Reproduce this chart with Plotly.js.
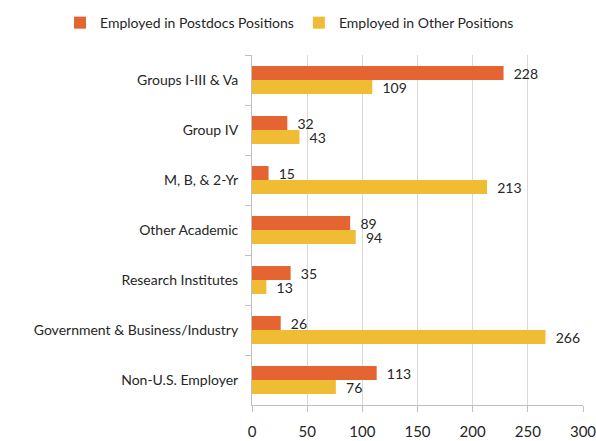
<!DOCTYPE html>
<html><head><meta charset="utf-8">
<script src="https://cdn.plot.ly/plotly-3.0.1.min.js"></script>
<style>body{margin:0;}#chart{width:596px;height:441px;}</style>
</head><body><div id="chart"></div>
<script>
const categories = ["Groups I-III & Va","Group IV","M, B, & 2-Yr","Other Academic","Research Institutes","Government & Business/Industry","Non-U.S. Employer"];
const postdocs = [228, 32, 15, 89, 35, 26, 113];
const other = [109, 43, 213, 94, 13, 266, 76];
const xTicks = [0, 50, 100, 150, 200, 250, 300];

const font = "Lato, 'Open Sans', sans-serif";
const pad = '\u00a0\u00a0';
const traces = [
  {type:'bar', orientation:'h', name:'Employed in Postdocs Positions', y:categories, x:postdocs,
   text:postdocs.map(v => pad + v), textposition:'outside', cliponaxis:false, constraintext:'none',
   marker:{color:'#E46432'}, textfont:{size:14, color:'#262626', family:font}},
  {type:'bar', orientation:'h', name:'Employed in Other Positions', y:categories, x:other,
   text:other.map(v => pad + v), textposition:'outside', cliponaxis:false, constraintext:'none',
   marker:{color:'#F0BC33'}, textfont:{size:14, color:'#262626', family:font}}
];
const layout = {
  width:596, height:441,
  margin:{l:252, r:13, t:55, b:36, autoexpand:false},
  barmode:'group', bargap:0.44, bargroupgap:0,
  font:{family:font, size:14, color:'#262626'},
  paper_bgcolor:'#fff', plot_bgcolor:'#fff',
  showlegend:true,
  legend:{orientation:'h', x:-0.58, xanchor:'left', y:1.137, yanchor:'top',
          font:{size:14, color:'#262626'}, traceorder:'normal', itemwidth:30, tracegroupgap:0},
  xaxis:{range:[0,300], tickvals:xTicks, ticktext:xTicks.map(String), showgrid:true, gridcolor:'#D9D9D9',
         showline:true, linecolor:'#BFBFBF', ticks:'outside', ticklen:6, tickcolor:'#BFBFBF',
         ticklabelstandoff:7, ticklabeloverflow:'allow', zeroline:false, tickfont:{size:15}},
  yaxis:{type:'category', autorange:'reversed', showline:true, linecolor:'#BFBFBF', ticks:'outside',
         tickson:'boundaries', ticklen:6, tickcolor:'#BFBFBF', ticklabelstandoff:10, showgrid:false,
         tickfont:{size:14}}
};
Plotly.newPlot('chart', traces, layout, {displayModeBar:false});
</script></body></html>
